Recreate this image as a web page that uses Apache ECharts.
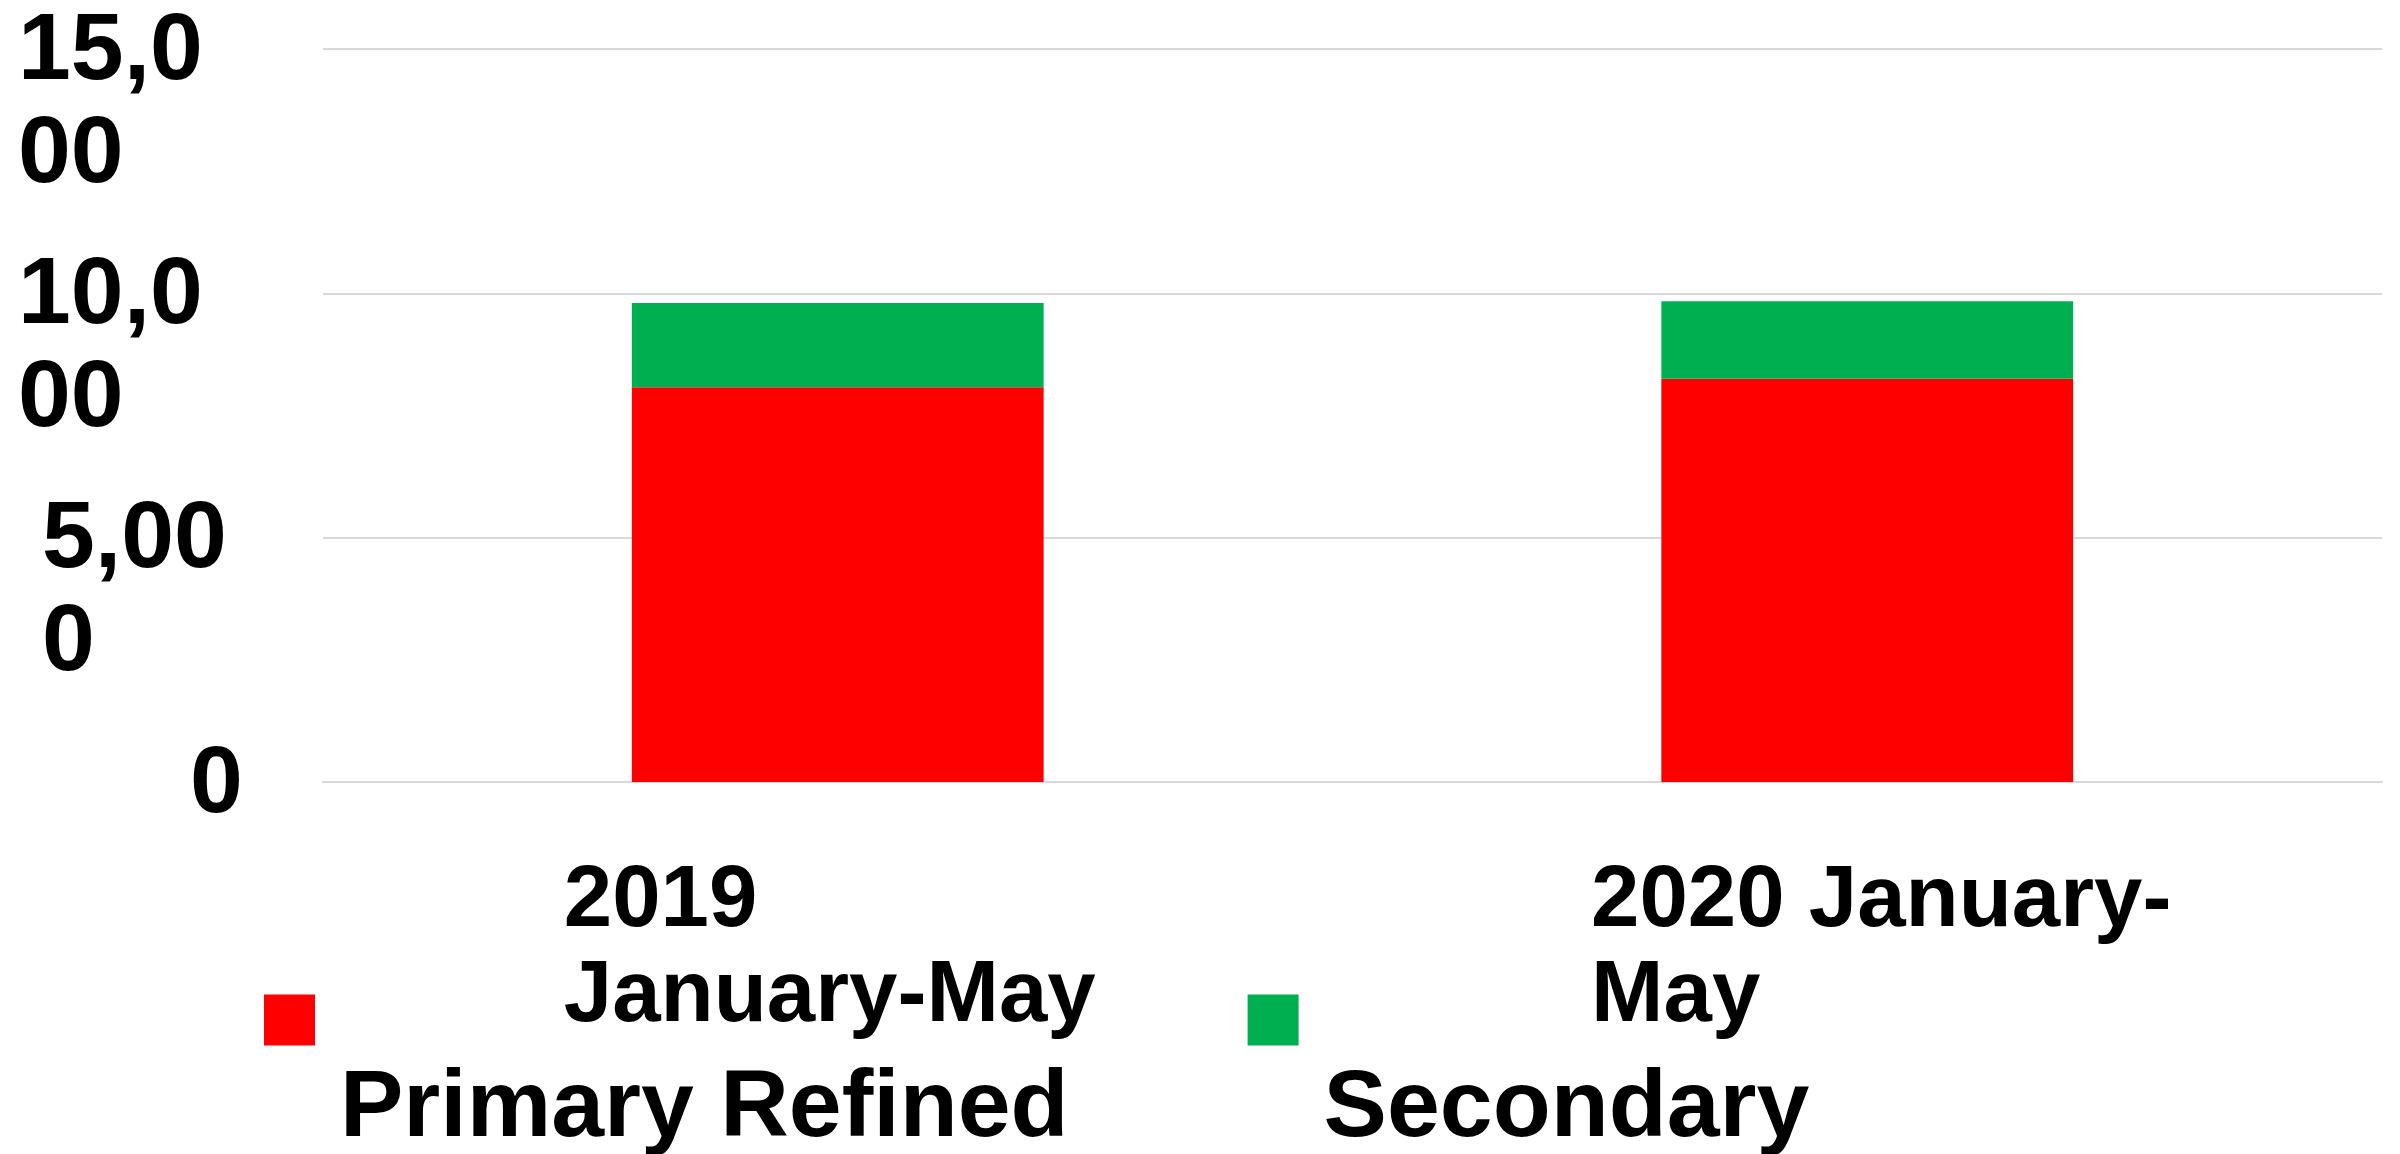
<!DOCTYPE html>
<html>
<head>
<meta charset="utf-8">
<script src="https://cdn.jsdelivr.net/npm/echarts@6/dist/echarts.min.js"></script>
<style>
  html, body { margin: 0; padding: 0; background: #fff; }
  #main { width: 2400px; height: 1154px; }
</style>
</head>
<body>
<div id="main"></div>
<script>
// data
var categories = ['2019 January-May', '2020 January-May'];
var categoryLines = [['2019', 'January-May'], ['2020 January-', 'May']];
var primaryRefined = [8080, 8250];
var secondary = [1720, 1590];
var yTicks = [0, 5000, 10000, 15000];
var yTickLines = { 0: ['0'], 5000: ['5,00', '0'], 10000: ['10,0', '00'], 15000: ['15,0', '00'] };

var FONT = '"Liberation Sans", Arial, sans-serif';

var myChart = echarts.init(document.getElementById('main'));

var xRich = { fontFamily: FONT, fontWeight: 'bold', fontSize: 87, lineHeight: 95, color: '#000', align: 'left' };
var yRich = { fontFamily: FONT, fontWeight: 'bold', fontSize: 95, lineHeight: 103, color: '#000', align: 'left' };

var option = {
  animation: false,
  color: ['#FF0000', '#00B050'],
  grid: { left: 323, right: 18, top: 49, bottom: 372, outerBoundsMode: 'none', containLabel: false },
  legend: {
    left: 264,
    top: 965,
    padding: 0,
    itemWidth: 51,
    itemHeight: 51,
    itemGap: 179,
    icon: 'rect',
    data: ['Primary Refined', 'Secondary'],
    formatter: function (name) {
      return '{s| }\n{n|' + name + '}';
    },
    textStyle: {
      color: '#000',
      rich: {
        s: { fontSize: 10, lineHeight: 180, align: 'left' },
        n: { fontFamily: FONT, fontWeight: 'bold', fontSize: 95, lineHeight: 100, color: '#000', align: 'left', padding: [0, 0, 0, 20] }
      }
    }
  },
  xAxis: {
    type: 'category',
    data: categories,
    axisTick: { show: false },
    axisLine: { show: true, lineStyle: { color: '#d9d9d9', width: 2 } },
    axisLabel: {
      margin: 73,
      interval: 0,
      formatter: function (v, i) {
        return categoryLines[i].map(function (s) { return '{c' + i + '|' + s + '}'; }).join('\n');
      },
      rich: {
        c0: Object.assign({ padding: [0, 16, 0, 0] }, xRich),
        c1: Object.assign({ padding: [0, 0, 0, 28] }, xRich)
      }
    }
  },
  yAxis: {
    type: 'value',
    min: 0,
    max: 15000,
    interval: 5000,
    axisLine: { show: false },
    axisTick: { show: false },
    splitLine: { lineStyle: { color: '#d9d9d9', width: 2 } },
    axisLabel: {
      align: 'left',
      verticalAlign: 'top',
      padding: [-48, 0, 0, 0],
      margin: 305,
      hideOverlap: false,
      formatter: function (v) {
        var lines = yTickLines[v] || [String(v)];
        var st = v === 0 ? 'z' : (v === 5000 ? 'f' : 't');
        return lines.map(function (s) { return '{' + st + '|' + s + '}'; }).join('\n');
      },
      rich: {
        t: yRich,
        f: Object.assign({ padding: [0, 0, 0, 24] }, yRich),
        z: Object.assign({ padding: [0, 0, 0, 172] }, yRich)
      }
    }
  },
  series: [
    {
      name: 'Primary Refined',
      type: 'bar',
      stack: 'total',
      barWidth: '40%',
      data: primaryRefined
    },
    {
      name: 'Secondary',
      type: 'bar',
      stack: 'total',
      barWidth: '40%',
      data: secondary
    }
  ]
};

myChart.setOption(option);

window.addEventListener('resize', function () {
  myChart.resize();
});
</script>
</body>
</html>
